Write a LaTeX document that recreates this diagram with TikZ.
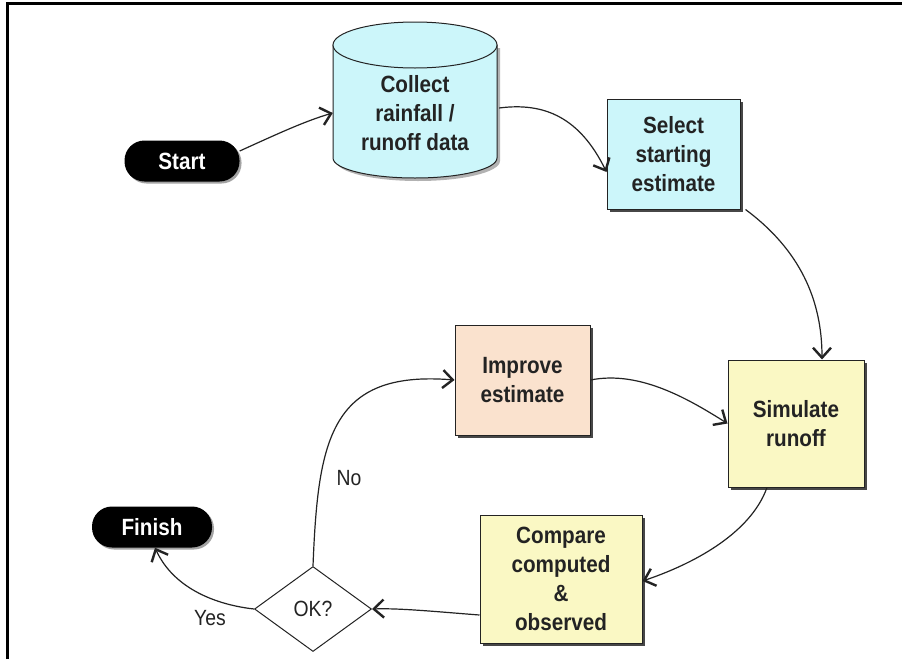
\documentclass[tikz,border=0pt]{standalone}
\usepackage{fontspec}
\setmainfont{Liberation Sans}[FakeStretch=0.88]
\usetikzlibrary{arrows.meta,shapes.geometric,shadows}
\definecolor{cyanfill}{RGB}{204,246,250}
\definecolor{peachfill}{RGB}{250,226,206}
\definecolor{yellowfill}{RGB}{250,248,196}
\definecolor{inkc}{RGB}{35,35,35}
\tikzset{barbtip/.tip={Straight Barb[length=10pt,width=18pt,line width=2.4pt]}}
\begin{document}
\begin{tikzpicture}[x=1pt,y=-1pt,
  every node/.style={font=\bfseries\fontsize{23.5}{29}\selectfont, text=inkc},
  box/.style={draw=inkc, line width=1pt, align=center, inner sep=0pt,
    drop shadow={shadow xshift=3pt, shadow yshift=-3pt, fill=black!80, opacity=0.9}},
  pill/.style={fill=black, rounded corners=20pt, text=white, inner sep=0pt,
    minimum height=41pt,
    drop shadow={shadow xshift=2pt, shadow yshift=-2pt, fill=black!60, opacity=0.6}},
  flow/.style={draw=inkc, line width=1.2pt, arrows={-barbtip}},
  lbl/.style={font=\fontsize{22}{26}\selectfont}
]
\useasboundingbox (0,0) rectangle (902,659);
\fill[white] (0,0) rectangle (902,659);
% frame
\draw[line width=3pt] (7,659) -- (7,3) -- (902,3);

% cylinder (Collect rainfall / runoff data)
\fill[black!50, opacity=0.6] (336,48) -- (336,161) arc[start angle=180,end angle=360,x radius=82pt,y radius=20pt] -- (500,48) -- cycle;
\filldraw[fill=cyanfill, draw=inkc, line width=1pt]
  (333,45) -- (333,158) arc[start angle=180,end angle=360,x radius=82pt,y radius=20pt] -- (497,45) -- cycle;
\filldraw[fill=cyanfill, draw=inkc, line width=1pt] (415,45) ellipse[x radius=82pt, y radius=23pt];
\node[align=center, inner sep=0pt, minimum width=164pt, minimum height=100pt] (collect) at (415,113) {Collect\\rainfall /\\runoff data};

% nodes
\node[pill, minimum width=115pt] (start) at (182,161) {Start};
\node[pill, minimum width=120pt] (finish) at (152,527) {Finish};
\node[box, fill=cyanfill, minimum width=133pt, minimum height=110pt] (select) at (673.5,154) {Select\\starting\\estimate};
\node[box, fill=yellowfill, minimum width=136pt, minimum height=127pt] (simulate) at (796,423.5) {Simulate\\runoff};
\node[box, fill=peachfill, minimum width=135pt, minimum height=110pt] (improve) at (522.5,380) {Improve\\estimate};
\node[box, fill=yellowfill, minimum width=162pt, minimum height=128pt] (compare) at (561,579) {Compare\\computed\\\&\\observed};
\node[diamond, draw=inkc, fill=white, line width=1pt, aspect=1.376, inner sep=0pt,
  minimum width=117pt, minimum height=85pt, font=\fontsize{22}{26}\selectfont] (ok) at (313,609) {OK?};

% connectors
\coordinate (s1) at ([yshift=10pt]start.east);
\coordinate (c1) at ([xshift=2pt,yshift=5pt]collect.east);
\draw[flow] (s1) .. controls (275,135) and (305,121) .. (collect.west);
\draw[flow] (c1) .. controls (545,102) and (580,118) .. ([yshift=-18pt]select.west);
\draw[flow] ([xshift=5pt]select.south east) .. controls (800,250) and (822,300) .. ([xshift=26pt]simulate.north);
\draw[flow] ([xshift=-29pt]simulate.south) .. controls (750,535) and (690,565) .. ([yshift=-2pt]compare.east);
\draw[flow] ([yshift=-36pt]compare.west) .. controls (440,612) and (400,608) .. (ok.east);
\draw[flow] (ok.west) .. controls (210,604) and (172,585) .. ([xshift=3pt]finish.south);
\draw[flow] (ok.north) .. controls (318,440) and (330,370) .. (improve.west);
\draw[flow] (improve.east) .. controls (640,370) and (690,400) .. (simulate.west);

% labels
\node[lbl] (nolbl) at (349,478) {No};
\node[lbl] (yeslbl) at (210,618) {Yes};
\end{tikzpicture}
\end{document}
